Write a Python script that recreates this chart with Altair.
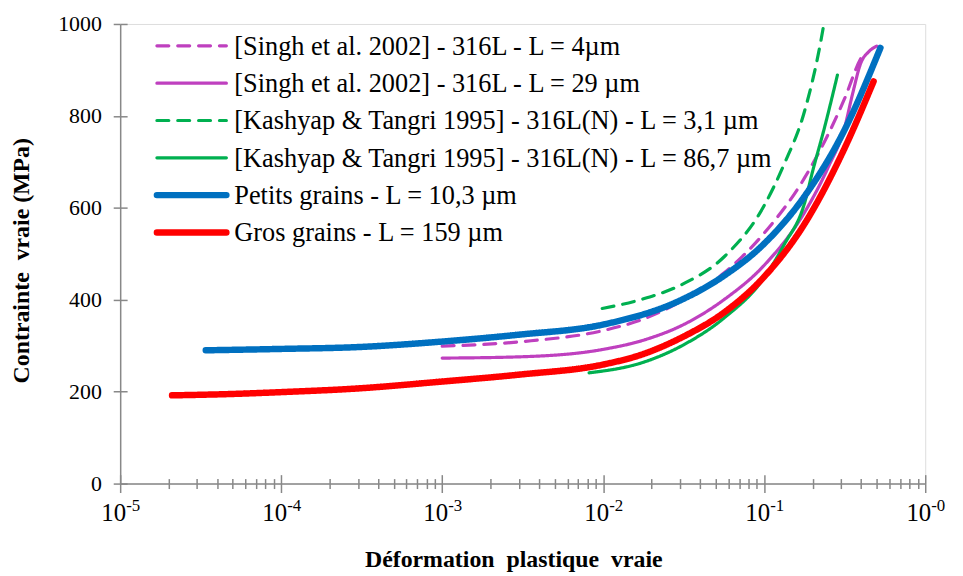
import altair as alt
import pandas as pd

# ---------------- data ----------------
singh4_x = [1e-3, 3.16e-3, 0.01, 0.0178, 0.0316, 0.0562, 0.1, 0.178, 0.316, 0.398, 0.42]
singh4_y = [299, 309, 333, 358, 400, 458, 545, 665, 838, 925, 938]

singh29_x = [1e-3, 3.16e-3, 0.01, 0.0178, 0.0316, 0.0562, 0.1, 0.178, 0.251, 0.316, 0.355, 0.398, 0.447, 0.5]
singh29_y = [273, 276, 292, 312, 346, 400, 475, 590, 690, 775, 850, 915, 940, 952]

kash31_x = [0.00986, 0.0178, 0.0316, 0.0562, 0.1, 0.133, 0.178, 0.224, 0.237]
kash31_y = [381, 402, 435, 493, 605, 695, 810, 960, 1008]

kash867_x = [0.00817, 0.0178, 0.0316, 0.0562, 0.1, 0.133, 0.178, 0.2, 0.237, 0.285]
kash867_y = [241, 264, 302, 360, 448, 520, 610, 680, 775, 889]

petits_x = [3.4e-5, 1e-4, 3e-4, 1e-3, 3e-3, 0.01, 0.0316, 0.0562, 0.1, 0.178, 0.316, 0.527]
petits_y = [290, 293, 297, 309, 324, 346, 402, 452, 522, 625, 770, 948]

gros_x = [2.1e-5, 5e-5, 1e-4, 3e-4, 1e-3, 3e-3, 0.01, 0.0178, 0.0316, 0.0562, 0.1, 0.178, 0.316, 0.478]
gros_y = [192, 195, 199, 207, 222, 237, 259, 282, 320, 372, 450, 565, 730, 875]

series_labels = [
    "[Singh et al. 2002] - 316L - L = 4µm",
    "[Singh et al. 2002] - 316L - L = 29 µm",
    "[Kashyap & Tangri 1995] - 316L(N) - L = 3,1 µm",
    "[Kashyap & Tangri 1995] - 316L(N) - L = 86,7 µm",
    "Petits grains - L = 10,3 µm",
    "Gros grains - L = 159 µm",
]
series_x = [singh4_x, singh29_x, kash31_x, kash867_x, petits_x, gros_x]
series_y = [singh4_y, singh29_y, kash31_y, kash867_y, petits_y, gros_y]

x_exponents = [-5, -4, -3, -2, -1, 0]
x_exponent_labels = ["-5", "-4", "-3", "-2", "-1", "-0"]
y_ticks = [0, 200, 400, 600, 800, 1000]

x_title = "Déformation\u00a0 plastique\u00a0 vraie"
y_title = "Contrainte\u00a0 vraie (MPa)"

# ---------------- styles ----------------
colors = ["#BF40BF", "#BF40BF", "#00B050", "#00B050", "#0070C0", "#FF0000"]
dashes = [[12, 9], [1, 0], [12, 9], [1, 0], [1, 0], [1, 0]]
widths = [3.2, 3.2, 3.2, 3.2, 6.5, 6.5]

W, H = 811, 463
FONT = "Liberation Serif"
AX = "#888888"

xscale = alt.Scale(type="log", domain=[1e-5, 1], nice=False)
yscale = alt.Scale(domain=[0, 1000], nice=False, zero=False)

x_tick_vals = [m * 10.0 ** k for k in range(-5, 0) for m in range(1, 10)] + [1.0]
major_test = "abs(log(datum.value)/LN10 - round(log(datum.value)/LN10)) < 0.001"
x_tick_size = {"condition": {"test": major_test, "value": 9}, "value": 5}

layers = []
for i in range(6):
    df = pd.DataFrame({"strain": series_x[i], "stress": series_y[i]})
    if i == 0:
        xax = alt.Axis(values=x_tick_vals, labels=False, tickSize=x_tick_size, tickColor=AX,
                       tickWidth=1.5, domainColor=AX, domainWidth=1.5, grid=False,
                       title=x_title, titleFont=FONT, titleFontSize=24, titleFontWeight="bold",
                       titleColor="black", titleX=396, titleY=77, titleBaseline="middle",
                       titleAlign="center")
        yax = alt.Axis(values=y_ticks, format="d", tickSize=7, tickColor=AX, tickWidth=1.5,
                       domainColor=AX, domainWidth=1.5, grid=False, labelFont=FONT,
                       labelFontSize=22, labelColor="black", labelPadding=12, title=y_title,
                       titleFont=FONT, titleFontSize=24, titleFontWeight="bold",
                       titleColor="black", titleAngle=-90, titleX=-99, titleY=238,
                       titleBaseline="middle", titleAlign="center")
    else:
        xax = None
        yax = None
    layers.append(
        alt.Chart(df).mark_line(interpolate="monotone", color=colors[i], strokeWidth=widths[i],
                                strokeDash=dashes[i], strokeCap="round", strokeJoin="round", clip=False)
        .encode(x=alt.X("strain:Q", scale=xscale, axis=xax),
                y=alt.Y("stress:Q", scale=yscale, axis=yax))
    )

# inner halves of the crossing ticks
xt_df = pd.DataFrame({"v": x_tick_vals})
layers.append(
    alt.Chart(xt_df).mark_point(opacity=0).encode(
        x=alt.X("v:Q", scale=xscale,
                axis=alt.Axis(orient="top", offset=-H, values=x_tick_vals, labels=False,
                              domain=False, grid=False, tickSize=x_tick_size, tickColor=AX,
                              tickWidth=1.5, title=None)),
        y=alt.value(0))
)
yt_df = pd.DataFrame({"s": y_ticks})
layers.append(
    alt.Chart(yt_df).mark_point(opacity=0).encode(
        y=alt.Y("s:Q", scale=yscale,
                axis=alt.Axis(orient="right", offset=-W, values=y_ticks, labels=False,
                              domain=False, grid=False, tickSize=7, tickColor=AX,
                              tickWidth=1.5, title=None)),
        x=alt.value(0))
)

# x tick labels 10^k
lab_df = pd.DataFrame({"v": [10.0 ** k for k in x_exponents], "e": x_exponent_labels})
layers.append(
    alt.Chart(lab_df).mark_text(font=FONT, fontSize=25, align="right", baseline="alphabetic",
                                dx=6, color="black")
    .encode(x=alt.X("v:Q", scale=xscale, axis=None), y=alt.value(H + 38), text=alt.value("10"))
)
layers.append(
    alt.Chart(lab_df).mark_text(font=FONT, fontSize=17, align="left", baseline="alphabetic",
                                dx=6, color="black")
    .encode(x=alt.X("v:Q", scale=xscale, axis=None), y=alt.value(H + 28), text="e:N")
)

# legend
for i, lab in enumerate(series_labels):
    ly = 22 + 37.6 * i
    ldf = pd.DataFrame({"label": [lab]})
    layers.append(
        alt.Chart(ldf).mark_rule(color=colors[i], strokeWidth=widths[i], strokeDash=dashes[i],
                                 strokeCap="round")
        .encode(x=alt.value(37), x2=alt.value(107), y=alt.value(ly))
    )
    layers.append(
        alt.Chart(ldf).mark_text(font=FONT, fontSize=26.5, align="left", baseline="middle",
                                 color="black")
        .encode(x=alt.value(115), y=alt.value(ly + 1), text="label:N")
    )

chart = (
    alt.layer(*layers)
    .resolve_axis(x="independent", y="independent")
    .properties(width=W, height=H,
                autosize=alt.AutoSizeParams(type="none"),
                padding={"left": 113, "top": 14, "right": 30, "bottom": 90})
    .configure_view(stroke=None)
    .configure(background="white")
)

chart.save("out.html", embed_options={"renderer": "svg", "actions": False})
